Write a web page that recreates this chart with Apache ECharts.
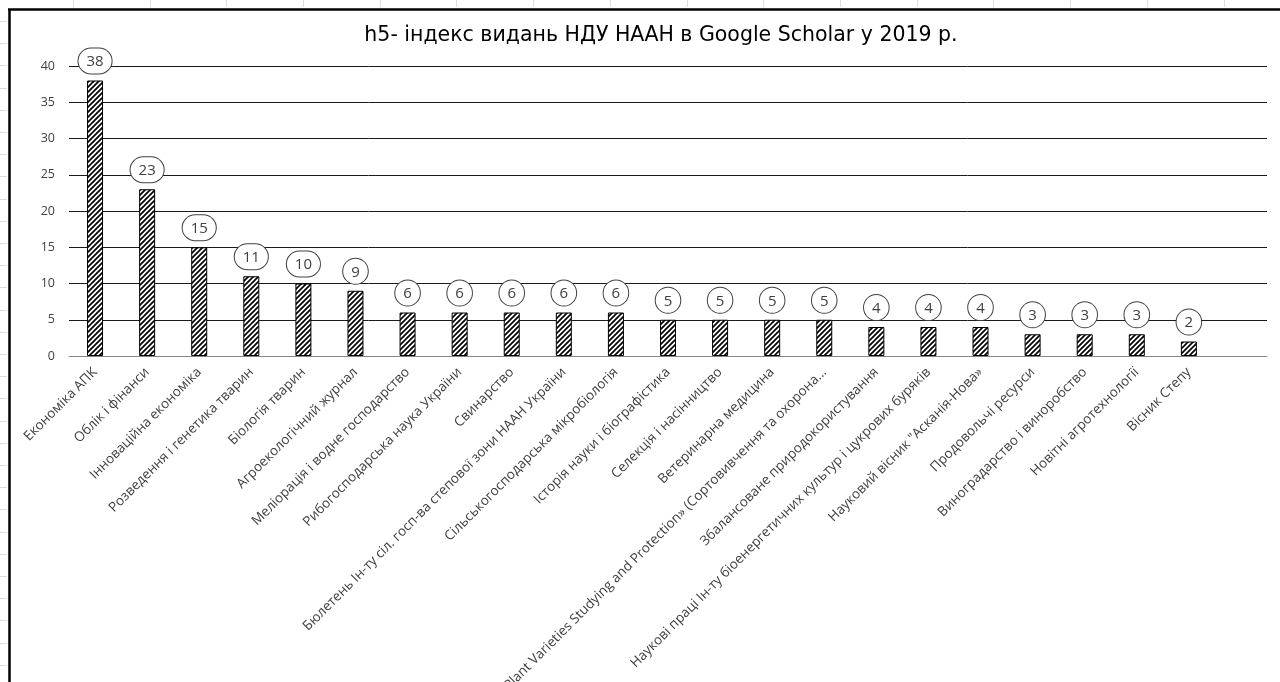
<!DOCTYPE html>
<html>
<head>
<meta charset="utf-8">
<script src="https://cdn.jsdelivr.net/npm/echarts@6/dist/echarts.min.js"></script>
<style>
html,body{margin:0;padding:0;background:#fff;}
#chart{width:1280px;height:682px;}
</style>
</head>
<body>
<div id="chart"></div>
<script>
const titleText = 'h5- індекс видань НДУ НААН в Google Scholar у 2019 р.';
const categories = [
  'Економіка АПК',
  'Облік і фінанси',
  'Інноваційна економіка',
  'Розведення і генетика тварин',
  'Біологія тварин',
  'Агроекологічний журнал',
  'Меліорація і водне господарство',
  'Рибогосподарська наука України',
  'Свинарство',
  'Бюлетень Ін-ту сіл. госп-ва степової зони НААН України',
  'Сільськогосподарська мікробіологія',
  'Історія науки і біографістика',
  'Селекція і насінництво',
  'Ветеринарна медицина',
  '«Plant Varieties Studying and Protection» (Сортовивчення та охорона...',
  'Збалансоване природокористування',
  'Наукові праці Ін-ту біоенергетичних культур і цукрових буряків',
  'Науковий вісник "Асканія-Нова»',
  'Продовольчі ресурси',
  'Виноградарство і виноробство',
  'Новітні агротехнології',
  'Вісник Степу',
  ''
];
const values = [38, 23, 15, 11, 10, 9, 6, 6, 6, 6, 6, 5, 5, 5, 5, 4, 4, 4, 3, 3, 3, 2, '-'];
const yTicks = [0, 5, 10, 15, 20, 25, 30, 35, 40];

function hatch() {
  const s = 5;
  const c = document.createElement('canvas');
  c.width = s; c.height = s;
  const g = c.getContext('2d');
  g.fillStyle = '#fff';
  g.fillRect(0, 0, s, s);
  g.strokeStyle = '#000';
  g.lineWidth = 1.7;
  g.beginPath();
  g.moveTo(-1, s + 1); g.lineTo(s + 1, -1);
  g.moveTo(-1, 1); g.lineTo(1, -1);
  g.moveTo(s - 1, s + 1); g.lineTo(s + 1, s - 1);
  g.stroke();
  return c;
}

// faint sheet gridline stubs outside the chart frame (decoration)
const frame = [
  {type: 'line', shape: {x1: 9.5, y1: 9, x2: 9.5, y2: 682}, style: {stroke: '#000', lineWidth: 2.5}, z: 100},
  {type: 'line', shape: {x1: 8, y1: 9.5, x2: 1280, y2: 9.5}, style: {stroke: '#000', lineWidth: 2.5}, z: 100}
];
for (let x = 73; x < 1280; x += 76.7) {
  frame.push({type: 'line', shape: {x1: Math.round(x) + 0.5, y1: 0, x2: Math.round(x) + 0.5, y2: 7}, style: {stroke: '#dcdcdc', lineWidth: 1}, z: 99});
}
for (let y = 21; y < 682; y += 22.2) {
  frame.push({type: 'line', shape: {x1: 0, y1: Math.round(y) + 0.5, x2: 7, y2: Math.round(y) + 0.5}, style: {stroke: '#dcdcdc', lineWidth: 1}, z: 99});
}

const chart = echarts.init(document.getElementById('chart'), null, {renderer: 'canvas'});
chart.setOption({
  animation: false,
  backgroundColor: '#fff',
  title: {
    text: titleText,
    left: 656,
    textAlign: 'center',
    top: 20,
    textStyle: {fontFamily: 'DejaVu Sans', fontSize: 20.5, fontWeight: 'normal', color: '#000'}
  },
  grid: {left: 69, right: 13, top: 66, bottom: 326, containLabel: false, outerBoundsMode: 'none'},
  xAxis: {
    type: 'category',
    data: categories,
    axisLine: {show: true, lineStyle: {color: '#868686', width: 1}},
    axisTick: {show: false},
    axisLabel: {interval: 0, rotate: 45, margin: 14, fontFamily: 'Open Sans', fontSize: 13.5, color: '#404040'}
  },
  yAxis: {
    type: 'value',
    min: yTicks[0],
    max: yTicks[yTicks.length - 1],
    interval: 5,
    axisLine: {show: false},
    axisTick: {show: false},
    axisLabel: {margin: 14, fontFamily: 'Open Sans', fontSize: 12.5, color: '#404040'},
    splitLine: {lineStyle: {color: '#1a1a1a', width: 1}}
  },
  series: [{
    type: 'bar',
    data: values,
    barWidth: 16,
    itemStyle: {color: {image: hatch(), repeat: 'repeat'}, borderColor: '#000', borderWidth: 1},
    label: {
      show: true,
      position: 'top',
      distance: 7,
      fontFamily: 'Open Sans',
      fontSize: 15,
      color: '#404040',
      backgroundColor: '#fff',
      borderColor: '#404040',
      borderWidth: 1,
      borderRadius: 14,
      padding: [6, 8, 4, 8]
    }
  }],
  graphic: frame
});
</script>
</body>
</html>
